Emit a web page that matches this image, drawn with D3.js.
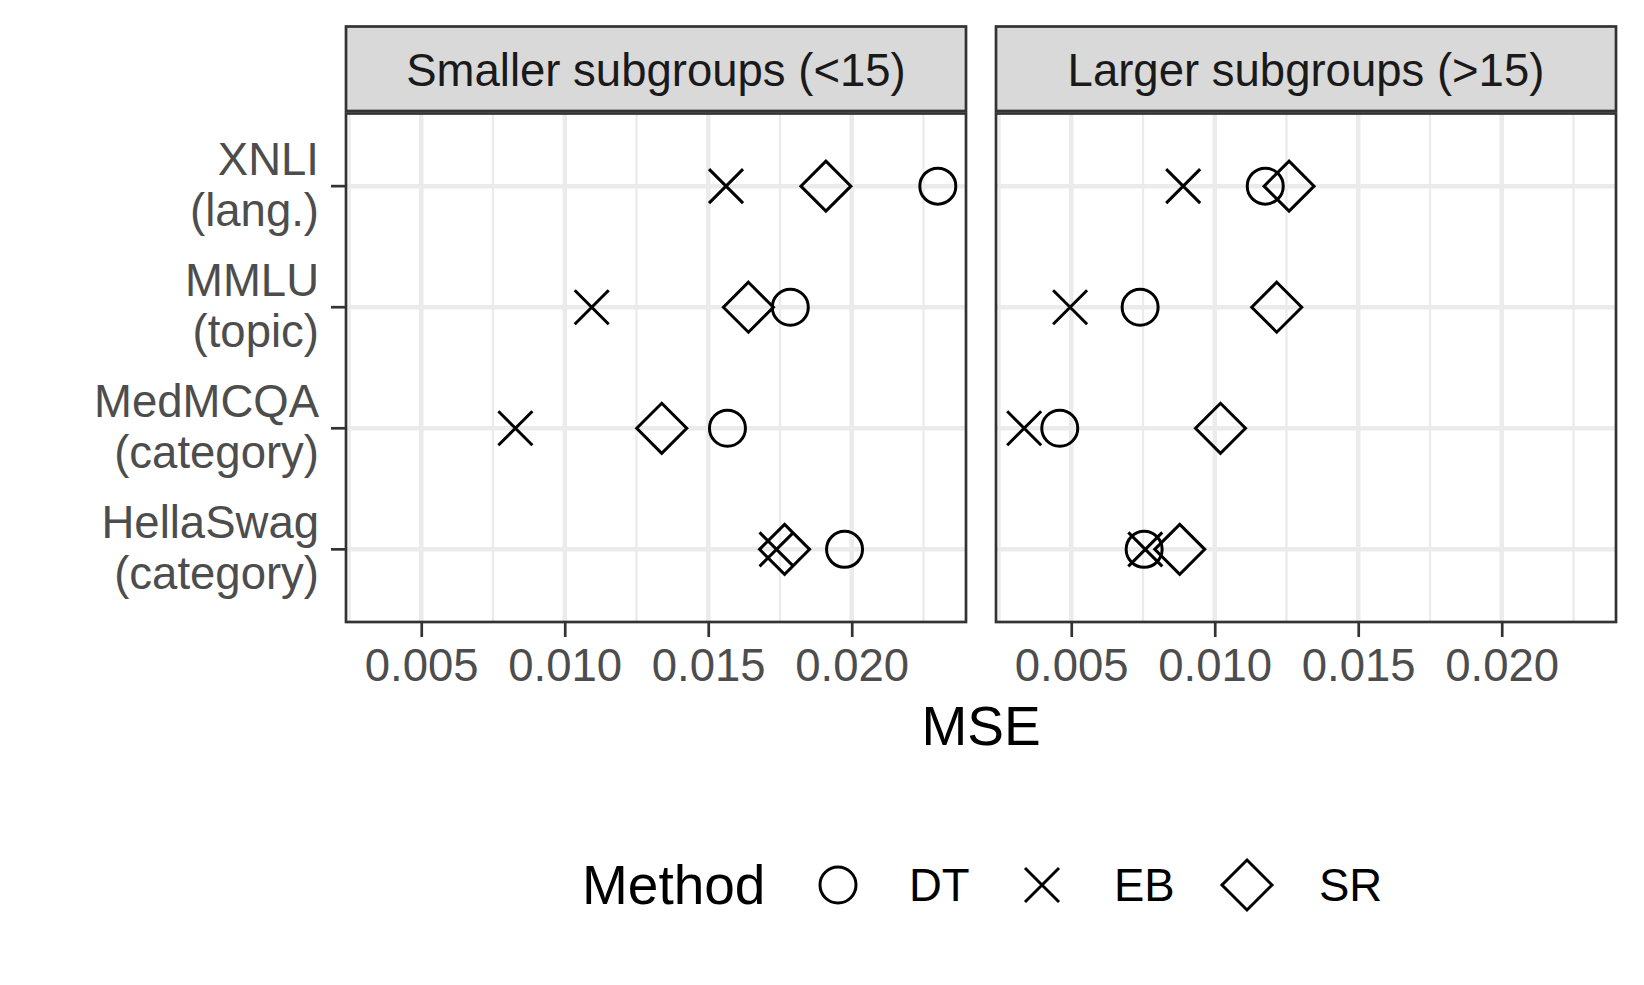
<!DOCTYPE html>
<html>
<head>
<meta charset="utf-8">
<script src="https://cdn.jsdelivr.net/npm/d3@7"></script>
<style>
  body { margin: 0; background: #fff; }
  svg { display: block; font-family: "Liberation Sans", Arial, Helvetica, sans-serif; }
</style>
</head>
<body>
<svg id="chart" width="1644" height="985"></svg>
<script>
// data
const categories = [["XNLI", "(lang.)"], ["MMLU", "(topic)"], ["MedMCQA", "(category)"], ["HellaSwag", "(category)"]];
const panels = ["Smaller subgroups (<15)", "Larger subgroups (>15)"];
const methods = ["DT", "EB", "SR"];
const xTicks = [0.005, 0.010, 0.015, 0.020];

// smaller subgroups
const smallDT = [0.02300, 0.01786, 0.01567, 0.01975];
const smallEB = [0.01562, 0.01094, 0.00828, 0.01738];
const smallSR = [0.01910, 0.01640, 0.01338, 0.01766];
// larger subgroups
const largeDT = [0.01176, 0.00740, 0.00460, 0.00754];
const largeEB = [0.00890, 0.00496, 0.00336, 0.00758];
const largeSR = [0.01259, 0.01216, 0.01020, 0.00878];

const panelData = [
  { DT: smallDT, EB: smallEB, SR: smallSR },
  { DT: largeDT, EB: largeEB, SR: largeSR }
];

const svg = d3.select("#chart");

const panelW = 620, gap = 30;
const left0 = 346;
const stripTop = 26.5, stripBot = 111, panelTop = 113.5, panelBot = 622;
const fs = 45.5;

// shared x scale, ggplot-style 5% expansion
const all = panelData.flatMap(p => methods.flatMap(m => p[m]));
const [lo, hi] = d3.extent(all);
const pad = (hi - lo) * 0.05;

const y = d3.scalePoint()
  .domain(categories.map(c => c[0]))
  .range([panelTop, panelBot])
  .padding(0.6);

// marker paths
const shapes = {
  DT: "M18,0A18,18 0 1,1 -18,0A18,18 0 1,1 18,0Z",
  EB: "M-17,-17L17,17M-17,17L17,-17",
  SR: "M0,-25L25,0L0,25L-25,0Z"
};

panels.forEach((title, pi) => {
  const x0 = left0 + pi * (panelW + gap);
  const x = d3.scaleLinear().domain([lo - pad, hi + pad]).range([x0, x0 + panelW]);
  const g = svg.append("g");

  // background + grid
  g.append("rect").attr("x", x0).attr("y", panelTop).attr("width", panelW)
    .attr("height", panelBot - panelTop).attr("fill", "#fff");

  const minor = d3.range(0.0025, 0.025, 0.005).filter(v => v > lo - pad && v < hi + pad);
  g.selectAll(".minor").data(minor).join("line")
    .attr("x1", d => x(d)).attr("x2", d => x(d))
    .attr("y1", panelTop).attr("y2", panelBot)
    .attr("stroke", "#EBEBEB").attr("stroke-width", 2.3);

  g.selectAll(".vmajor").data(xTicks).join("line")
    .attr("x1", d => x(d)).attr("x2", d => x(d))
    .attr("y1", panelTop).attr("y2", panelBot)
    .attr("stroke", "#EBEBEB").attr("stroke-width", 4.5);

  g.selectAll(".hmajor").data(categories).join("line")
    .attr("x1", x0).attr("x2", x0 + panelW)
    .attr("y1", d => y(d[0])).attr("y2", d => y(d[0]))
    .attr("stroke", "#EBEBEB").attr("stroke-width", 4.5);

  // points
  methods.forEach(m => {
    g.selectAll(".pt" + m).data(panelData[pi][m]).join("path")
      .attr("d", shapes[m])
      .attr("transform", (d, i) => `translate(${x(d)},${y(categories[i][0])})`)
      .attr("fill", "none").attr("stroke", "#000").attr("stroke-width", 3);
  });

  // panel border
  g.append("rect").attr("x", x0).attr("y", panelTop).attr("width", panelW)
    .attr("height", panelBot - panelTop)
    .attr("fill", "none").attr("stroke", "#333333").attr("stroke-width", 2.7);

  // strip
  g.append("rect").attr("x", x0).attr("y", stripTop).attr("width", panelW)
    .attr("height", stripBot - stripTop)
    .attr("fill", "#D9D9D9").attr("stroke", "#333333").attr("stroke-width", 2.7);
  g.append("text").attr("x", x0 + panelW / 2).attr("y", 86)
    .attr("text-anchor", "middle").attr("font-size", fs).attr("fill", "#1A1A1A")
    .text(title);

  // x axis
  const ax = g.append("g").attr("transform", `translate(0,${panelBot})`)
    .call(d3.axisBottom(x).tickValues(xTicks).tickFormat(d3.format(".3f"))
      .tickSize(15).tickPadding(12));
  ax.select(".domain").remove();
  ax.selectAll(".tick line").attr("stroke", "#333333").attr("stroke-width", 2.7);
  ax.selectAll(".tick text").attr("font-size", fs).attr("fill", "#4D4D4D")
    .attr("font-family", "Liberation Sans, Arial, sans-serif");
});

// y axis on the left panel
const yg = svg.append("g");
yg.selectAll("line").data(categories).join("line")
  .attr("x1", left0 - 15).attr("x2", left0)
  .attr("y1", d => y(d[0])).attr("y2", d => y(d[0]))
  .attr("stroke", "#333333").attr("stroke-width", 2.7);
const yt = yg.selectAll("text").data(categories).join("text")
  .attr("text-anchor", "end").attr("font-size", fs).attr("fill", "#4D4D4D");
yt.append("tspan").attr("x", 319).attr("y", d => y(d[0]) - 11).text(d => d[0]);
yt.append("tspan").attr("x", 319).attr("y", d => y(d[0]) + 40).text(d => d[1]);

// axis title
svg.append("text").attr("x", left0 + panelW + gap / 2).attr("y", 745)
  .attr("text-anchor", "middle").attr("font-size", 55).attr("fill", "#000")
  .text("MSE");

// legend
const legY = 885;
svg.append("text").attr("x", 582).attr("y", legY + 19)
  .attr("font-size", 55).attr("fill", "#000").text("Method");
const legKeys = [838, 1042, 1247];
const legText = [909, 1114, 1319];
methods.forEach((m, i) => {
  svg.append("path").attr("d", shapes[m])
    .attr("transform", `translate(${legKeys[i]},${legY})`)
    .attr("fill", "none").attr("stroke", "#000").attr("stroke-width", 3);
  svg.append("text").attr("x", legText[i]).attr("y", legY + 16)
    .attr("font-size", fs).attr("fill", "#000").text(m);
});
</script>
</body>
</html>
